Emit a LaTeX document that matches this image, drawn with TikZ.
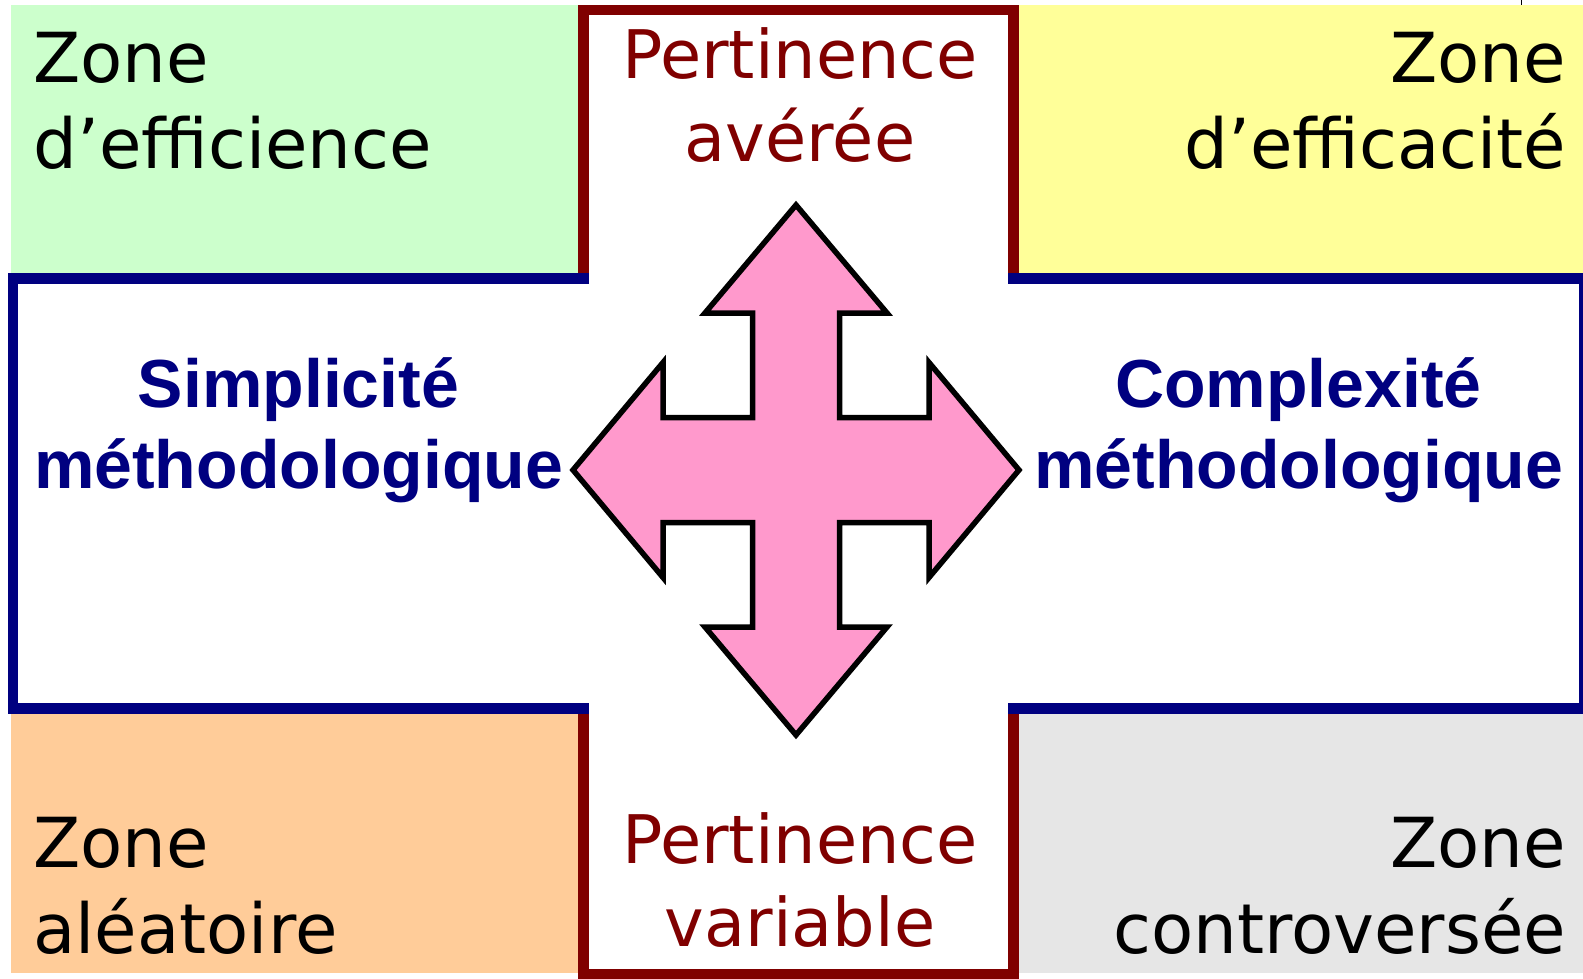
\documentclass[tikz,border=0pt]{standalone}
\usepackage{fontspec}
\setmainfont{DejaVu Sans}
\newfontfamily\boldfam{Liberation Sans}
\definecolor{zgreen}{HTML}{CCFFCC}
\definecolor{zyellow}{HTML}{FFFF99}
\definecolor{zorange}{HTML}{FFCC99}
\definecolor{zgray}{HTML}{E6E6E6}
\definecolor{darkred}{HTML}{800000}
\definecolor{navy}{HTML}{000080}
\definecolor{pinkfill}{HTML}{FF99CC}
\tikzset{
  zonetxt/.style={inner sep=0pt, outer sep=0pt, text=black, font=\fontsize{69}{86}\selectfont},
  pertxt/.style={inner sep=0pt, outer sep=0pt, text=darkred, font=\fontsize{67}{82}\selectfont},
  methtxt/.style={inner sep=0pt, outer sep=0pt, text=navy, font=\boldfam\bfseries\fontsize{68}{82}\selectfont},
  redframe/.style={draw=darkred, line width=10.5pt, miter limit=10},
  blueframe/.style={draw=navy, line width=10.5pt, miter limit=10},
  bigarrow/.style={draw=black, fill=pinkfill, line width=5.5pt, line join=miter, miter limit=20}
}
\begin{document}
\begin{tikzpicture}[x=1pt, y=-1pt]
\useasboundingbox (0,0) rectangle (1583,978);
% coloured zones
\fill[zgreen] (11,5) rectangle (578.5,273);
\fill[zyellow] (1018.5,5) rectangle (1583,273);
\fill[zorange] (11,713) rectangle (578.5,973);
\fill[zgray] (1018.5,713) rectangle (1583,973);
% small tick at top right
\draw[line width=1.2pt] (1521.5,0) -- (1521.5,5);
% red frames
\draw[redframe] (583.5,273) -- (583.5,10) -- (1013.5,10) -- (1013.5,273);
\draw[redframe] (583.5,713) -- (583.5,974) -- (1013.5,974) -- (1013.5,713);
% blue frames
\draw[blueframe] (589,278.5) -- (13,278.5) -- (13,708.5) -- (589,708.5);
\draw[blueframe] (1008,278.5) -- (1584,278.5) -- (1584,708.5) -- (1008,708.5);
% four-way arrow
\def\cx{796}\def\cy{470}
\draw[bigarrow]
  (\cx,\cy-265) -- (\cx+91,\cy-157) -- (\cx+43.5,\cy-157) -- (\cx+43.5,\cy-52.5)
  -- (\cx+133,\cy-52.5) -- (\cx+133,\cy-107.5) -- (\cx+223,\cy)
  -- (\cx+133,\cy+107.5) -- (\cx+133,\cy+52.5) -- (\cx+43.5,\cy+52.5)
  -- (\cx+43.5,\cy+157) -- (\cx+91,\cy+157) -- (\cx,\cy+265)
  -- (\cx-91,\cy+157) -- (\cx-43.5,\cy+157) -- (\cx-43.5,\cy+52.5)
  -- (\cx-133,\cy+52.5) -- (\cx-133,\cy+107.5) -- (\cx-223,\cy)
  -- (\cx-133,\cy-107.5) -- (\cx-133,\cy-52.5) -- (\cx-43.5,\cy-52.5)
  -- (\cx-43.5,\cy-157) -- (\cx-91,\cy-157) -- cycle;
% zone texts
\node[zonetxt, anchor=base west] (tla) at (33.5,82) {Zone};
\node[zonetxt, anchor=base west] (tlb) at (33.5,168) {d’efficience};
\node[zonetxt, anchor=base east] (tra) at (1566,82) {Zone};
\node[zonetxt, anchor=base east] (trb) at (1566,168) {d’efficacité};
\node[zonetxt, anchor=base west] (bla) at (33.5,867) {Zone};
\node[zonetxt, anchor=base west] (blb) at (33.5,953) {aléatoire};
\node[zonetxt, anchor=base east] (bra) at (1566,867) {Zone};
\node[zonetxt, anchor=base east] (brb) at (1566,953) {controversée};
% pertinence texts
\node[pertxt, anchor=base] (pta) at (800,78.5) {Pertinence};
\node[pertxt, anchor=base] (ptb) at (800,161) {avérée};
\node[pertxt, anchor=base] (pba) at (800,863.5) {Pertinence};
\node[pertxt, anchor=base] (pbb) at (800,946.5) {variable};
% methodology texts
\node[methtxt, anchor=base] (sla) at (298.5,407) {Simplicité};
\node[methtxt, anchor=base] (slb) at (298.5,488.5) {méthodologique};
\node[methtxt, anchor=base] (cra) at (1298.5,407) {Complexité};
\node[methtxt, anchor=base] (crb) at (1298.5,488.5) {méthodologique};
\end{tikzpicture}
\end{document}
